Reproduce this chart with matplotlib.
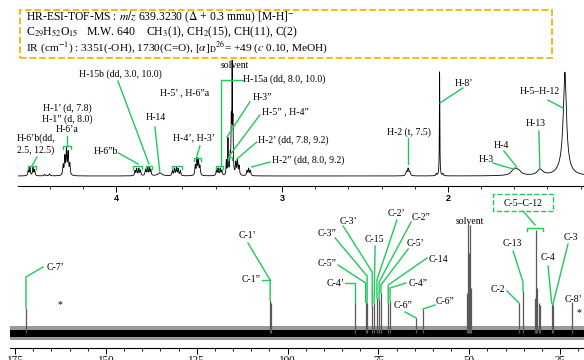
import numpy as np
import matplotlib.pyplot as plt
from matplotlib.patches import Rectangle
from matplotlib.ticker import MultipleLocator, FormatStrFormatter

plt.rcParams['font.family'] = ['Liberation Serif', 'DejaVu Serif']
plt.rcParams['mathtext.fontset'] = 'stix'

GREEN = '#1ec85a'
ORANGE = '#f5b400'

# --- 1H NMR: peak positions (ppm), heights, half widths (ppm) ---
h_ppm = [4.528, 4.518, 4.500, 4.490,
         4.430, 4.400,
         4.318, 4.308, 4.298, 4.288, 4.278,
         3.885, 3.875, 3.862, 3.852,
         3.822, 3.812, 3.800, 3.790,
         3.735,
         3.660, 3.648, 3.636, 3.625, 3.612,
         3.522, 3.512, 3.503, 3.494,
         3.395, 3.385, 3.372, 3.362,
         3.335, 3.325, 3.312,
         3.305, 3.300, 3.295,
         3.278, 3.268, 3.258,
         3.210, 3.200, 3.190,
         2.250, 2.240, 2.230,
         2.070, 2.050, 2.030,
         1.600, 1.575,
         1.445,
         1.295, 1.300]
h_int = [6, 8, 8, 6,
         1.5, 2,
         10, 18, 26, 22, 11,
         5, 7, 7, 5,
         6, 8, 8, 6,
         3,
         5, 7, 8, 7, 5,
         10, 16, 15, 9,
         5, 7, 7, 5,
         14, 36, 18,
         50, 108, 50,
         12, 15, 9,
         5, 7, 5,
         4, 7, 4,
         2, 104, 2,
         6, 4,
         6,
         92, 12]
h_hw = [0.003, 0.003, 0.003, 0.003,
        0.004, 0.004,
        0.003, 0.003, 0.003, 0.003, 0.003,
        0.003, 0.003, 0.003, 0.003,
        0.003, 0.003, 0.003, 0.003,
        0.015,
        0.003, 0.003, 0.003, 0.003, 0.003,
        0.003, 0.003, 0.003, 0.003,
        0.003, 0.003, 0.003, 0.003,
        0.002, 0.002, 0.003,
        0.002, 0.0015, 0.002,
        0.003, 0.003, 0.003,
        0.003, 0.003, 0.003,
        0.004, 0.004, 0.004,
        0.003, 0.0015, 0.003,
        0.02, 0.02,
        0.02,
        0.011, 0.03]

# --- 13C NMR: line positions (ppm) and heights ---
c_ppm = [172.0, 104.8, 104.6, 81.4, 78.5, 78.1, 76.7, 76.2, 75.4, 74.8, 74.3,
         72.3, 71.8, 64.6, 62.7,
         50.6, 50.3, 50.0, 49.7, 49.4,
         36.3, 35.2, 32.0, 31.6, 31.2, 30.8, 30.5, 27.3, 27.0, 21.7]
c_int = [25, 33, 30, 30, 31, 30, 28, 30, 35, 33, 40,
         30, 32, 15, 24,
         40, 110, 80, 108, 45,
         30, 42, 35, 103, 45, 30, 28, 30, 28, 31]

# --- címkék (szöveg, ppm, intenzitás, igazítás) ---
h_labels = [
    ("H-6’b(dd,", 4.596, 38, 'left'),
    ("2.5, 12.5)", 4.596, 26, 'left'),
    ("H-1’ (d, 7.8)", 4.295, 68, 'center'),
    ("H-1” (d, 8.0)", 4.295, 57, 'center'),
    ("H-6’a", 4.295, 46, 'center'),
    ("H-6”b", 3.99, 25, 'right'),
    ("H-15b (dd, 3.0, 10.0)", 3.976, 102, 'center'),
    ("H-14", 3.759, 58, 'center'),
    ("H-5’ , H-6”a", 3.584, 83, 'center'),
    ("H-4’, H-3’", 3.530, 38, 'center'),
    ("H-15a (dd, 8.0, 10.0)", 3.235, 97, 'left'),
    ("H-3”", 3.175, 79, 'left'),
    ("H-5” , H-4”", 3.120, 64, 'left'),
    ("H-2’ (dd, 7.8, 9.2)", 3.145, 36, 'left'),
    ("H-2” (dd, 8.0, 9.2)", 3.060, 16, 'left'),
    ("solvent", 3.283, 110, 'center'),
    ("H-8’", 1.904, 93, 'center'),
    ("H-2 (t, 7.5)", 2.235, 44, 'center'),
    ("H-3", 1.771, 17, 'center'),
    ("H-4", 1.675, 30, 'center'),
    ("H-13", 1.470, 53, 'center'),
    ("H-5–H-12", 1.446, 84, 'center'),
]
h_lines = [
    [(4.506, 10), (4.476, 19)],
    [(4.295, 30), (4.295, 40)],
    [(3.985, 23), (3.867, 12)],
    [(3.988, 95), (3.801, 12)],
    [(3.765, 49), (3.735, 3)],
    [(3.494, 30), (3.512, 20)],
    [(3.235, 96), (3.367, 96), (3.367, 10)],
    [(3.193, 74), (3.331, 39)],
    [(3.133, 61), (3.313, 21)],
    [(3.151, 34), (3.271, 17)],
    [(3.072, 14), (3.181, 9)],
    [(1.910, 88), (2.048, 73)],
    [(2.241, 38), (2.241, 12)],
    [(1.729, 13), (1.608, 7)],
    [(1.663, 25), (1.585, 9)],
    [(1.452, 45), (1.446, 8)],
    [(1.398, 76), (1.307, 68)],
]
h_brackets = [(4.530, 4.482, 10), (4.319, 4.271, 30), (3.898, 3.843, 10),
              (3.819, 3.783, 10), (3.663, 3.602, 10), (3.530, 3.488, 18),
              (3.398, 3.355, 10), (3.325, 3.301, 19)]

c_labels = [
    ("C-7’", 166.2, 66, 'left'),
    ("*", 162.6, 28, 'center'),
    ("C-1’", 111.1, 98, 'center'),
    ("C-1”", 107.3, 53, 'right'),
    ("C-4’", 84.4, 49, 'right'),
    ("C-5”", 89.1, 70, 'center'),
    ("C-3”", 89.1, 100, 'center'),
    ("C-3’", 83.1, 112, 'center'),
    ("C-15", 76.2, 93, 'center'),
    ("C-2’", 69.9, 119, 'center'),
    ("C-2”", 63.3, 116, 'center'),
    ("C-5’", 64.9, 90, 'center'),
    ("C-14", 58.6, 74, 'center'),
    ("C-4”", 64.1, 50, 'center'),
    ("C-6”", 68.2, 27, 'center'),
    ("C-6”", 56.6, 32, 'center'),
    ("solvent", 49.8, 112, 'center'),
    ("C-5–C-12", 35.17, 130, 'center'),
    ("C-13", 38.2, 89, 'center'),
    ("C-2", 42.1, 43, 'center'),
    ("C-4", 28.3, 75, 'center'),
    ("C-3", 22.0, 96, 'center'),
    ("C-8’", 21.4, 34, 'center'),
    ("*", 19.8, 20, 'center'),
]
c_lines = [
    [(172.0, 25), (172.0, 56), (167.3, 66)],
    [(110.9, 90), (104.8, 53), (104.8, 33)],
    [(107.0, 53), (104.8, 53)],
    [(84.2, 50), (81.4, 50), (81.4, 30)],
    [(86.1, 68), (78.5, 50), (78.5, 31)],
    [(86.9, 95), (78.1, 57), (78.1, 30)],
    [(84.7, 107), (76.7, 61), (76.7, 28)],
    [(75.9, 87), (76.2, 30)],
    [(69.9, 113), (75.4, 53), (75.4, 35)],
    [(66.0, 111), (74.8, 51), (74.8, 33)],
    [(66.8, 84), (74.3, 48), (74.3, 40)],
    [(61.6, 75), (72.3, 48), (72.3, 30)],
    [(67.4, 50), (71.8, 45), (71.8, 32)],
    [(67.65, 21), (64.6, 15)],
    [(59.4, 28), (62.7, 24)],
    [(35.17, 122), (31.87, 108)],
    [(37.9, 82), (35.2, 51), (35.2, 42)],
    [(39.6, 42), (36.3, 30)],
    [(28.3, 67), (27.3, 30)],
    [(22.8, 89), (27.0, 28)],
]
c_brackets = [(34.07, 29.67, 105)]


def lorentz_sum(x, centers, heights, widths):
    """Lorentz-vonalak összege a megadott csúcsokból"""
    y = np.zeros_like(x)
    for c, h, w in zip(centers, heights, widths):
        y += h * w ** 2 / ((x - c) ** 2 + w ** 2)
    return y


def draw_labels(ax, labels, lines, brackets, size):
    for text, x, y, ha in labels:
        ax.text(x, y, text, ha=ha, va='center', fontsize=size, clip_on=False)
    for pts in lines:
        xs, ys = zip(*pts)
        ax.plot(xs, ys, color=GREEN, lw=1.0, clip_on=False)
    for x1, x2, y in brackets:
        leg = 2.5
        ax.plot([x1, x1, x2, x2], [y - leg, y, y, y - leg], color=GREEN, lw=1.0, clip_on=False)


def style_axis(ax, major, minor, fmt):
    for side in ('top', 'left', 'right'):
        ax.spines[side].set_visible(False)
    ax.spines['bottom'].set_linewidth(0.8)
    ax.set_yticks([])
    ax.xaxis.set_major_locator(MultipleLocator(major))
    ax.xaxis.set_minor_locator(MultipleLocator(minor))
    ax.xaxis.set_major_formatter(FormatStrFormatter(fmt))
    ax.tick_params(axis='x', which='major', length=4, width=0.7, direction='out')
    ax.tick_params(axis='x', which='minor', length=2.5, width=0.6, direction='out')
    ax.patch.set_alpha(0)


fig = plt.figure(figsize=(5.84, 3.6), dpi=100)

# 1H spektrum (felső)
ax_h = fig.add_axes([18 / 584, 174 / 360, 566 / 584, 126 / 360])
x_h = np.linspace(4.59, 1.18, 9000)
ax_h.plot(x_h, lorentz_sum(x_h, h_ppm, h_int, h_hw), color='black', lw=0.6)
ax_h.set_xlim(4.59, 1.18)
ax_h.set_ylim(-10, 116)
style_axis(ax_h, 1, 0.2, '%d')
ax_h.tick_params(axis='x', labelsize=6.5, pad=2)
for lab in ax_h.get_xticklabels():
    lab.set_fontweight('bold')
    lab.set_family('Liberation Sans')
draw_labels(ax_h, h_labels, h_lines, h_brackets, 7)

# 13C spektrum (alsó)
ax_c = fig.add_axes([10 / 584, 12 / 360, 574 / 584, 160 / 360])
ax_c.set_xlim(176.4, 18.4)
ax_c.set_ylim(-15, 145)
ax_c.fill_between([176.4, 18.4], -7, 7, color='black', alpha=0.4, lw=0)
ax_c.fill_between([176.4, 18.4], -3.5, 3.5, color='black', lw=0)
ax_c.vlines(c_ppm, 0, c_int, color='0.35', lw=0.9)
style_axis(ax_c, 25, 5, '%d')
ax_c.tick_params(axis='x', labelsize=8, pad=2)
draw_labels(ax_c, c_labels, c_lines, c_brackets, 7)
ax_c.add_patch(Rectangle((26.92, 122), 16.5, 17, fill=False, edgecolor=GREEN,
                         linestyle='--', lw=1.0, clip_on=False))

# adatokat tartalmazó keret
fig.patches.append(Rectangle((20 / 584, 302 / 360), 532 / 584, 48 / 360, fill=False,
                             edgecolor=ORANGE, linestyle='--', lw=1.3,
                             transform=fig.transFigure, figure=fig))
fig.text(26 / 584, 343 / 360, r"HR-ESI-TOF-MS : $m/z$ 639.3230 ($\Delta$ + 0.3 mmu) [M-H]$^{-}$",
         fontsize=8.4, va='center')
fig.text(26 / 584, 327.5 / 360,
         r"C$_{29}$H$_{52}$O$_{15}$   M.W. 640    CH$_3$(1), CH$_2$(15), CH(11), C(2)",
         fontsize=8.5, va='center')
fig.text(26 / 584, 312 / 360,
         r"IR (cm$^{-1}$) : 3351(-OH), 1730(C=O), [$\alpha$]$_\mathrm{D}$$^{26}$= +49 ($c$ 0.10, MeOH)",
         fontsize=8.2, va='center')

fig.savefig('out.png', dpi=100)
